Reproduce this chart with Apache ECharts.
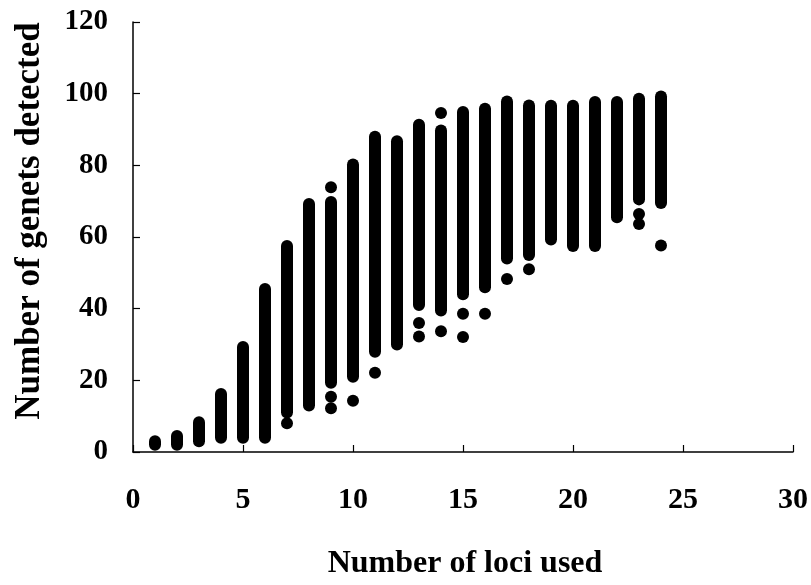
<!DOCTYPE html>
<html>
<head>
<meta charset="utf-8">
<script src="https://cdn.jsdelivr.net/npm/echarts@6/dist/echarts.min.js"></script>
<style>
  html, body { margin: 0; padding: 0; background: #fff; }
  #chart { width: 811px; height: 585px; }
</style>
</head>
<body>
<div id="chart"></div>
<script>
// Number of loci used (x)
const loci = [1, 2, 3, 4, 5, 6, 7, 8, 9, 10, 11, 12, 13, 14, 15, 16, 17, 18, 19, 20, 21, 22, 23, 24];
// Dense range of genets detected for each number of loci (lowest / highest of the continuous band)
const bandMin = [2, 2, 3, 4, 4, 4, 11, 13, 19.3, 21, 28, 30, 41, 39.5, 44, 46, 54, 55, 59.3, 57.5, 57.5, 65.5, 70.5, 69.5];
const bandMax = [3, 4.5, 8.3, 16.2, 29.3, 45.5, 57.5, 69.2, 69.8, 80.2, 88, 86.7, 91.3, 89.7, 94.9, 95.8, 97.8, 96.7, 96.6, 96.6, 97.7, 97.7, 98.6, 99.2];
// Isolated points outside the dense bands [loci, genets]
const outliers = [
  [7, 8], [9, 73.9], [9, 15.4], [9, 12.2], [10, 14.3], [11, 22.1],
  [13, 36], [13, 32.2], [14, 94.6], [14, 33.7], [15, 38.6], [15, 32.1],
  [16, 38.6], [17, 48.3], [18, 51], [23, 66.4], [23, 63.6], [24, 57.6]
];
// Axis ticks
const xTicks = { min: 0, max: 30, interval: 5 };
const yTicks = { min: 0, max: 120, interval: 20 };

const bandData = loci.map((x, i) => [x, bandMin[i], bandMax[i]]);
const DOT = 12;
const serif = '"Liberation Serif", "Times New Roman", serif';

const chart = echarts.init(document.getElementById('chart'), null, { renderer: 'canvas' });
chart.setOption({
  animation: false,
  backgroundColor: '#fff',
  grid: { left: 133, right: 18, top: 22, bottom: 133 },
  xAxis: {
    type: 'value',
    min: xTicks.min, max: xTicks.max, interval: xTicks.interval,
    axisLine: { show: true, lineStyle: { color: '#000', width: 1.5 } },
    axisTick: { show: true, inside: true, length: 7, lineStyle: { color: '#000', width: 1.2 } },
    axisLabel: { margin: 33, color: '#000', fontFamily: serif, fontWeight: 'bold', fontSize: 30 },
    splitLine: { show: false }
  },
  yAxis: {
    type: 'value',
    min: yTicks.min, max: yTicks.max, interval: yTicks.interval,
    axisLine: { show: true, lineStyle: { color: '#000', width: 1.5 } },
    axisTick: { show: true, inside: true, length: 7, lineStyle: { color: '#000', width: 1.2 } },
    axisLabel: { margin: 25, color: '#000', fontFamily: serif, fontWeight: 'bold', fontSize: 29 },
    splitLine: { show: false }
  },
  graphic: [
    {
      type: 'text', x: 30, y: 221, rotation: Math.PI / 2,
      style: {
        text: 'Number of genets detected', fill: '#000',
        font: 'bold 35px ' + serif, textAlign: 'center', textVerticalAlign: 'middle'
      }
    },
    {
      type: 'text', x: 465, y: 564,
      style: {
        text: 'Number of loci used', fill: '#000',
        font: 'bold 32px ' + serif, textAlign: 'center', textVerticalAlign: 'middle'
      }
    }
  ],
  series: [
    {
      type: 'custom',
      data: bandData,
      encode: { x: 0, y: [1, 2] },
      renderItem: function (params, api) {
        const x = api.value(0), lo = api.value(1), hi = api.value(2);
        const top = api.coord([x, hi]);
        const bot = api.coord([x, lo]);
        const r = DOT / 2;
        return {
          type: 'rect',
          shape: { x: top[0] - r, y: top[1] - r, width: 2 * r, height: bot[1] - top[1] + 2 * r, r: r },
          style: { fill: '#000' }
        };
      }
    },
    {
      type: 'scatter',
      data: outliers,
      symbol: 'circle',
      symbolSize: DOT,
      itemStyle: { color: '#000', opacity: 1 }
    }
  ]
});
</script>
</body>
</html>
